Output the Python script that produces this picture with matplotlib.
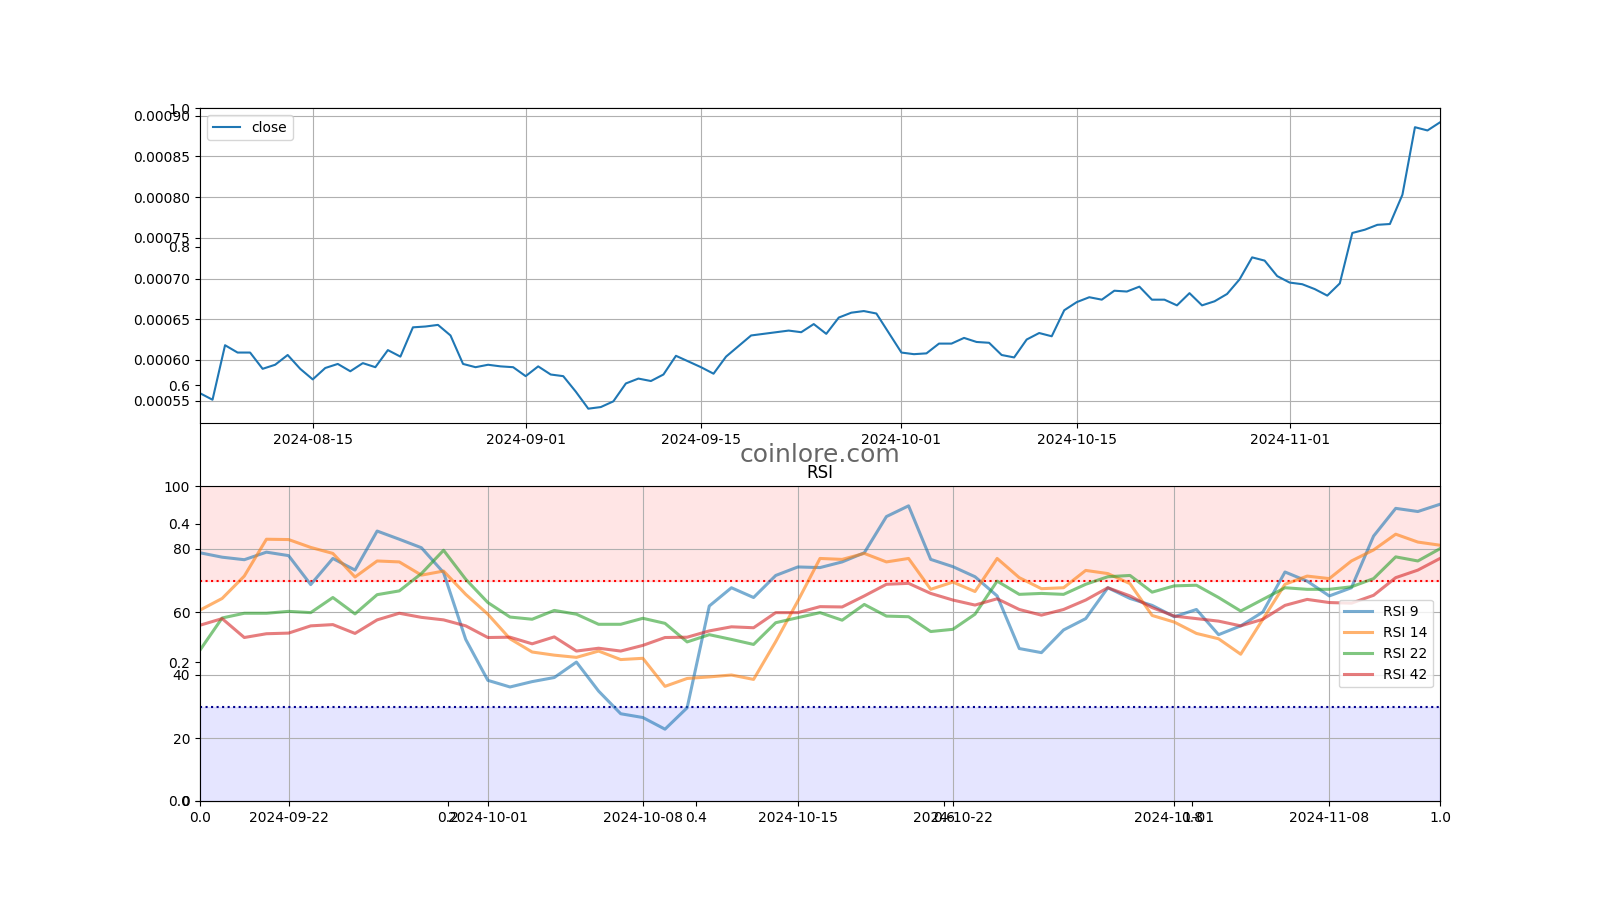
import numpy as np
import pandas as pd
import matplotlib
matplotlib.use('Agg')
import matplotlib.pyplot as plt

# daily close, 2024-08-06 .. 2024-11-13
close_start = '2024-08-06'
close_values = [
    0.000559, 0.000551, 0.000618, 0.000609, 0.000609, 0.000589, 0.000594, 0.000606,
    0.000589, 0.000576, 0.000590, 0.000595, 0.000586, 0.000596, 0.000591, 0.000612,
    0.000604, 0.000640, 0.000641, 0.000643, 0.000630, 0.000595, 0.000591, 0.000594,
    0.000592, 0.000591,
    0.000580, 0.000592, 0.000582, 0.000580, 0.000561, 0.000540, 0.000542, 0.000549,
    0.000571, 0.000577, 0.000574, 0.000582, 0.000605, 0.000598, 0.000591, 0.000583,
    0.000604, 0.000617, 0.000630, 0.000632, 0.000634, 0.000636, 0.000634, 0.000644,
    0.000632, 0.000652, 0.000658, 0.000660, 0.000657, 0.000633,
    0.000609, 0.000607, 0.000608, 0.000620, 0.000620, 0.000627, 0.000622, 0.000621,
    0.000606, 0.000603, 0.000625, 0.000633, 0.000629, 0.000661, 0.000671, 0.000677,
    0.000674, 0.000685, 0.000684, 0.000690, 0.000674, 0.000674, 0.000667, 0.000682,
    0.000667, 0.000672, 0.000681, 0.000699, 0.000726, 0.000722, 0.000703,
    0.000695, 0.000693, 0.000687, 0.000679, 0.000694, 0.000756, 0.000760, 0.000766,
    0.000767, 0.000803, 0.000886, 0.000882, 0.000892,
]

# RSI, 2024-09-18 .. 2024-11-13
rsi_start = '2024-09-18'
rsi_9 = [
    78.8, 77.4, 76.6, 79.0, 77.9, 68.7, 77.0, 73.3, 85.7, 83.1, 80.4, 72.5, 51.3, 38.3, 36.2,
    37.9, 39.2, 44.1, 34.9, 27.7, 26.5, 22.8, 29.6, 61.9, 67.7, 64.6, 71.6, 74.3, 74.1,
    75.9, 78.8, 90.3, 93.7, 76.7, 74.4, 71.2, 65.1, 48.4, 47.1, 54.3, 57.9, 67.7, 64.3,
    62.1, 58.5, 60.8, 52.8, 55.6, 60.0, 72.7, 69.8, 65.1, 67.7, 84.1, 92.9, 91.9, 94.2,
]
rsi_14 = [
    60.6, 64.3, 71.4, 83.1, 83.0, 80.5, 78.6, 71.1, 76.2, 75.9, 71.7, 73.0, 65.6, 59.3, 51.5,
    47.3, 46.3, 45.6, 47.6, 44.9, 45.3, 36.4, 38.9, 39.4, 40.0, 38.6, 50.6, 63.5, 77.0,
    76.7, 78.6, 75.9, 77.0, 67.2, 69.5, 66.5, 77.0, 70.9, 67.4, 67.7, 73.2, 72.2, 69.0,
    58.9, 56.8, 53.2, 51.5, 46.6, 57.7, 68.8, 71.4, 70.6, 76.2, 79.7, 84.7, 82.2, 81.2,
]
rsi_22 = [
    47.9, 58.1, 59.6, 59.6, 60.2, 59.8, 64.6, 59.4, 65.5, 66.7, 72.2, 79.6, 70.4, 63.0, 58.4,
    57.7, 60.5, 59.3, 56.1, 56.1, 58.0, 56.4, 50.5, 52.8, 51.3, 49.7, 56.6, 58.2, 59.8,
    57.4, 62.4, 58.7, 58.5, 53.8, 54.5, 59.3, 69.8, 65.6, 65.9, 65.6, 68.8, 71.2, 71.6,
    66.3, 68.3, 68.5, 64.6, 60.3, 64.0, 67.7, 67.2, 67.2, 68.0, 70.6, 77.5, 76.2, 80.1,
]
rsi_42 = [
    55.8, 57.9, 51.9, 53.1, 53.3, 55.6, 56.0, 53.2, 57.5, 59.6, 58.3, 57.5, 55.6, 51.9, 52.0,
    49.9, 52.1, 47.6, 48.5, 47.6, 49.4, 51.9, 52.0, 54.0, 55.3, 55.0, 59.8, 59.8, 61.7,
    61.6, 65.1, 68.8, 69.1, 65.9, 63.8, 62.2, 64.2, 60.8, 59.0, 60.8, 63.8, 67.7, 65.1,
    61.4, 58.7, 57.9, 57.1, 55.6, 57.7, 62.1, 64.0, 63.0, 62.8, 65.3, 70.9, 73.3, 77.0,
]

close_dates = pd.date_range(close_start, periods=len(close_values), freq='D')
rsi_dates = pd.date_range(rsi_start, periods=len(rsi_9), freq='D')

fig = plt.figure(figsize=(16, 9), dpi=100)

# background axes (left over 0..1 ticks) + watermark
ax0 = fig.add_subplot(1, 1, 1)
ax0.text(0.5, 0.5, 'coinlore.com', transform=ax0.transAxes, ha='center', va='center',
         fontsize=18, color='#666666')

# price
ax1 = fig.add_subplot(2, 1, 1)
ax1.plot(close_dates, close_values, label='close')
ax1.set_xlim(close_dates[0], close_dates[-1])
ax1.grid(True)
ax1.legend(loc='upper left')

# RSI
ax2 = fig.add_subplot(2, 1, 2)
ax2.axhspan(70, 100, color='red', alpha=0.1)
ax2.axhspan(0, 30, color='blue', alpha=0.1)
ax2.axhline(70, color='red', linestyle=':')
ax2.axhline(30, color='darkblue', linestyle=':')
for vals, lab in [(rsi_9, 'RSI 9'), (rsi_14, 'RSI 14'), (rsi_22, 'RSI 22'), (rsi_42, 'RSI 42')]:
    ax2.plot(rsi_dates, vals, label=lab, linewidth=2.2, alpha=0.6)
ax2.set_xlim(rsi_dates[0], rsi_dates[-1])
ax2.set_ylim(0, 100)
ax2.set_title('RSI')
ax2.grid(True)
ax2.legend(loc='center right')

fig.savefig('out.png', dpi=100)
